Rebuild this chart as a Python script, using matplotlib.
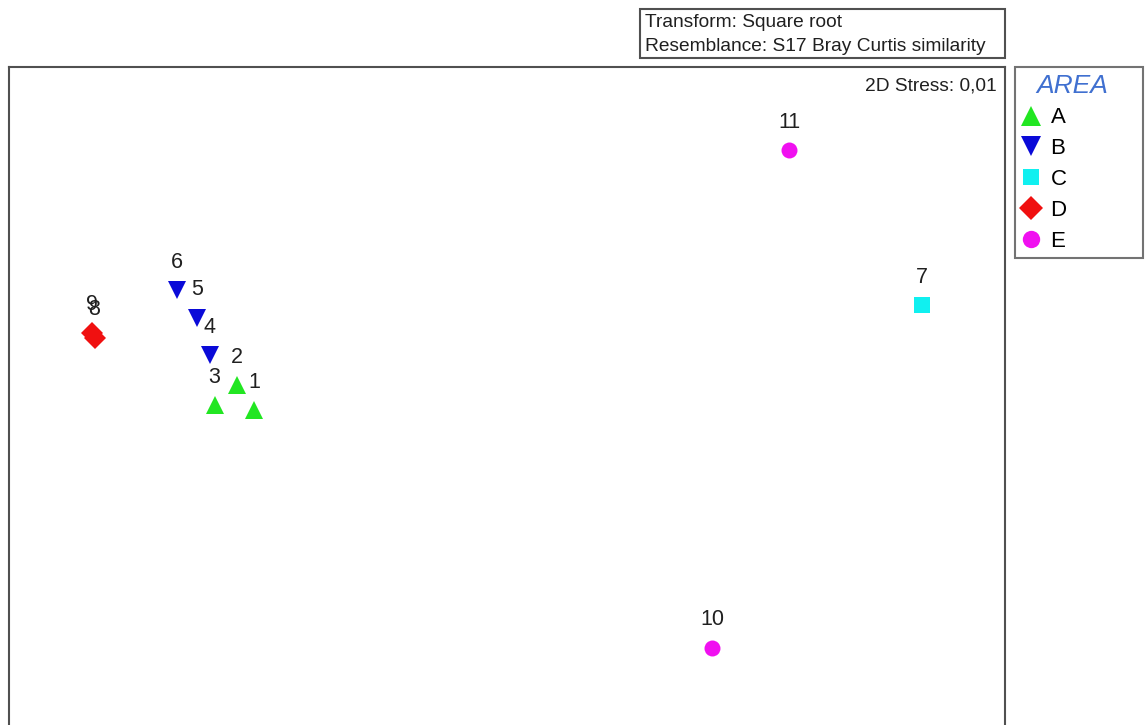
import numpy as np
import matplotlib
matplotlib.use('Agg')
import matplotlib.pyplot as plt
from matplotlib.lines import Line2D
from matplotlib.patches import Rectangle

# nMDS ordination (sqrt transform, Bray Curtis)
samples = ['1', '2', '3', '4', '5', '6', '7', '8', '9', '10', '11']
area = ['A', 'A', 'A', 'B', 'B', 'B', 'C', 'D', 'D', 'E', 'E']
mds_x = [-1.01, -1.08, -1.17, -1.19, -1.24, -1.32, 1.66, -1.65, -1.66, 0.82, 1.13]
mds_y = [-0.04, 0.06, -0.02, 0.18, 0.33, 0.44, 0.38, 0.25, 0.27, -0.99, 1.00]

groups = ['A', 'B', 'C', 'D', 'E']
group_marker = {'A': '^', 'B': 'v', 'C': 's', 'D': 'D', 'E': 'o'}
group_color = {'A': '#22e622', 'B': '#0a0ad8', 'C': '#10f0f0', 'D': '#f01010', 'E': '#f010f0'}
group_size = {'A': 13, 'B': 13, 'C': 11, 'D': 11.5, 'E': 11.5}

plt.rcParams['font.family'] = ['Liberation Sans', 'DejaVu Sans']
edge = '#505050'
txt = '#202020'

fig = plt.figure(figsize=(11.45, 7.25), dpi=100)
W, H = 1145.0, 725.0

# main plot box runs off the bottom of the figure
ax = fig.add_axes([9 / W, -35 / H, (1005 - 9) / W, (725 + 35 - 67) / H])
ax.set_xlim(-1.992, 1.992)
ax.set_ylim(-1.44, 1.332)
ax.set_xticks([])
ax.set_yticks([])
for s in ['left', 'top', 'right']:
    ax.spines[s].set_color(edge)
    ax.spines[s].set_linewidth(1.5)
ax.spines['bottom'].set_visible(False)

for g in groups:
    idx = [i for i, a in enumerate(area) if a == g]
    ax.plot([mds_x[i] for i in idx], [mds_y[i] for i in idx], linestyle='none',
            marker=group_marker[g], color=group_color[g], markersize=group_size[g],
            markeredgewidth=0)

for i, lab in enumerate(samples):
    ax.annotate(lab, (mds_x[i], mds_y[i]), xytext=(0, 20), textcoords='offset points',
                ha='center', va='center', fontsize=15.5, color=txt)

ax.text(0.9915, 0.973, '2D Stress: 0,01', transform=ax.transAxes, ha='right', va='center',
        fontsize=13.8, color=txt)

# header box
fig.patches.append(Rectangle((640 / W, 1 - 58 / H), 365 / W, 49 / H, transform=fig.transFigure,
                             fill=False, edgecolor=edge, linewidth=1.5))
fig.text(645 / W, 1 - 27 / H, 'Transform: Square root', ha='left', va='baseline',
         fontsize=13.8, color=txt)
fig.text(645 / W, 1 - 51 / H, 'Resemblance: S17 Bray Curtis similarity', ha='left', va='baseline',
         fontsize=13.8, color=txt)

# legend
handles = [Line2D([], [], linestyle='none', marker=group_marker[g], color=group_color[g],
                  markersize=group_size[g] + 1, markeredgewidth=0) for g in groups]
leg = fig.legend(handles, groups, loc='upper left', mode='expand',
                 bbox_to_anchor=(1015 / W, 1 - 67 / H - 0.01, 128 / W, 0.01),
                 title='AREA  ', fontsize=16, labelspacing=0.44, handlelength=0.8,
                 handletextpad=0.5, borderpad=0.3, borderaxespad=0, fancybox=False,
                 title_fontproperties={'size': 19, 'style': 'italic'})
leg.get_title().set_color('#4070d0')
leg.get_frame().set_edgecolor(edge)
leg.get_frame().set_linewidth(1.5)

fig.savefig('out.png', dpi=100)
